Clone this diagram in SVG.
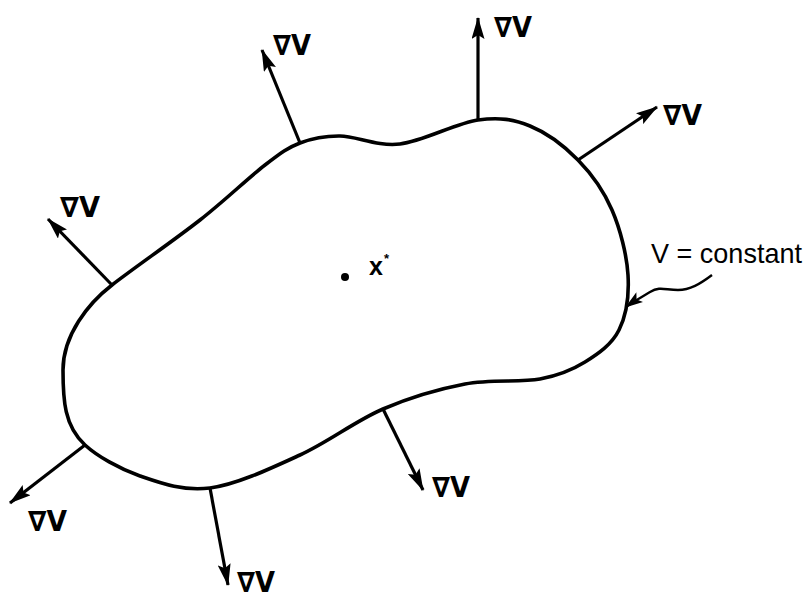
<svg xmlns="http://www.w3.org/2000/svg" width="811" height="599" viewBox="0 0 811 599">
<style>
.curve{fill:none;stroke:#000;stroke-width:3.6;stroke-linejoin:round}
.arr{fill:none;stroke:#000;stroke-width:3.2;marker-end:url(#ah)}
.lead{fill:none;stroke:#000;stroke-width:2.4;marker-end:url(#ah2)}
.lbl{font-family:"DejaVu Sans",sans-serif;font-weight:bold;font-size:28px;fill:#000}
.txt{font-family:"Liberation Sans",Arial,sans-serif;fill:#000}
</style>
<defs>
<marker id="ah" viewBox="0 0 22 13" markerWidth="22" markerHeight="13" refX="21" refY="6.5" orient="auto" markerUnits="userSpaceOnUse">
<path d="M0,0 L22,6.5 L0,13 L4,6.5 z" fill="#000"/>
</marker>
<marker id="ah2" viewBox="0 0 18 12" markerWidth="18" markerHeight="12" refX="17" refY="6" orient="auto" markerUnits="userSpaceOnUse">
<path d="M0,0 L18,6 L0,12 L4,6 z" fill="#000"/>
</marker>
</defs>
<rect width="811" height="599" fill="#fff"/>
<g id="region">
<path class="curve" d="M300,143 C312.5,138.2 323.3,135.8 340,136 C356.7,136.2 377,146.7 400,144 C423,141.3 456.3,123 478,120 C499.7,117 513.3,119.3 530,126 C546.7,132.7 564.3,146 578,160 C591.7,174 603.7,190.8 612,210 C620.3,229.2 626.8,255 628,275 C629.2,295 626.2,315.5 619,330 C611.8,344.5 598.2,353.8 585,362 C571.8,370.2 560,375.3 540,379 C520,382.7 491.2,379 465,384 C438.8,389 410.5,397.2 383,409 C355.5,420.8 328.8,441.8 300,455 C271.2,468.2 236.7,484.5 210,488 C183.3,491.5 160.8,483.2 140,476 C119.2,468.8 97,456 85,445 C64.3,426.2 63,400 63,370 C63,335 88.3,303.3 112,285 C135.7,266.7 174.5,240 200,220 C225.5,200 248.3,177.8 265,165 C281.7,152.2 287.5,147.8 300,143 Z"/>
</g>
<g id="connectors">
<line class="arr" x1="300" y1="143" x2="262" y2="50"/>
<line class="arr" x1="478" y1="120" x2="478" y2="18"/>
<line class="arr" x1="578" y1="160" x2="657" y2="107"/>
<line class="arr" x1="112" y1="285" x2="48" y2="219"/>
<line class="arr" x1="85" y1="445" x2="10" y2="503"/>
<line class="arr" x1="210" y1="488" x2="228" y2="585"/>
<line class="arr" x1="383" y1="409" x2="423" y2="490"/>
<path class="lead" d="M712,275 C700,284 690,290 678,290 C665,290 660,286 650,292 C640,298 633,302 626,307"/>
</g>
<g id="labels">
<text class="lbl" x="273" y="55" textLength="38" lengthAdjust="spacingAndGlyphs">∇V</text>
<text class="lbl" x="494" y="37" textLength="38" lengthAdjust="spacingAndGlyphs">∇V</text>
<text class="lbl" x="663" y="125" textLength="39" lengthAdjust="spacingAndGlyphs">∇V</text>
<text class="lbl" x="60" y="217" textLength="40" lengthAdjust="spacingAndGlyphs">∇V</text>
<text class="lbl" x="28" y="531" textLength="39" lengthAdjust="spacingAndGlyphs">∇V</text>
<text class="lbl" x="237" y="592" textLength="38" lengthAdjust="spacingAndGlyphs">∇V</text>
<text class="lbl" x="432" y="497" textLength="38" lengthAdjust="spacingAndGlyphs">∇V</text>
</g>
<g id="xstar">
<circle cx="345" cy="277" r="4" fill="#000"/>
<text class="txt" x="369" y="275" font-size="25" font-weight="bold">x</text>
<text class="txt" x="384" y="263" font-size="13" font-weight="bold">*</text>
</g>
<g id="vconst">
<text class="txt" x="651" y="263" font-size="28" textLength="151" lengthAdjust="spacingAndGlyphs">V = constant</text>
</g>
</svg>
